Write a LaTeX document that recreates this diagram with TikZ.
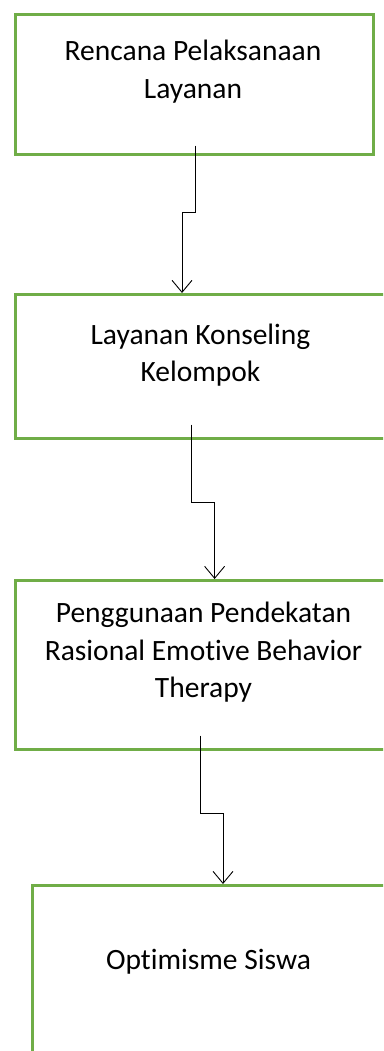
\documentclass[tikz,border=0pt]{standalone}
\usepackage{fontspec}
\setmainfont[Ligatures=NoCommon]{Carlito}
\usetikzlibrary{arrows.meta}

\definecolor{boxgreen}{HTML}{70AD47}

\newcommand*{\pagew}{383}
\newcommand*{\pageh}{1051}

\begin{document}
\begin{tikzpicture}
[
	x=1pt,
	y=-1pt,
	box/.style={rectangle,draw=boxgreen,line width=2.6pt,anchor=north west,inner sep=0pt},
	label/.style={align=center,inner sep=0pt,font=\fontsize{29.5}{37.5}\selectfont},
	flow/.style={draw=black,line width=0.9pt,-{Straight Barb[length=12pt,width=20pt,line width=0.9pt]}}
]

	\useasboundingbox (0,0) rectangle (\pagew,\pageh);
	\clip (0,0) rectangle (\pagew,\pageh);

	% boxes
	\node[box,minimum width=358,minimum height=140] (plan) at (14,13) {};
	\node[box,minimum width=373,minimum height=144] (group) at (14,293) {};
	\node[box,minimum width=379,minimum height=169] (rebt) at (14,579) {};
	\node[box,minimum width=355,minimum height=200] (optim) at (31,884) {};

	% texts
	\node[label] (plantext) at (193,71.5) {Rencana Pelaksanaan\\Layanan};
	\node[label] (grouptext) at (200.5,355) {Layanan Konseling\\Kelompok};
	\node[label] (rebttext) at (203.5,652.5) {Penggunaan Pendekatan\\Rasional Emotive Behavior\\Therapy};
	\node[label] (optimtext) at (208.5,961.5) {Optimisme Siswa};

	% connectors
	\draw[flow] ([xshift=1.3pt,yshift=10pt]plan.south) -- ++(0,67) -| ([xshift=-19.8pt]group.north);
	\draw[flow] ([xshift=-10.5pt,yshift=15pt]group.south) -- ++(0,78) -| ([xshift=9.8pt]rebt.north);
	\draw[flow] ([xshift=-4.8pt,yshift=15pt]rebt.south) -- ++(0,78) -| ([xshift=13.2pt]optim.north);

\end{tikzpicture}
\end{document}
